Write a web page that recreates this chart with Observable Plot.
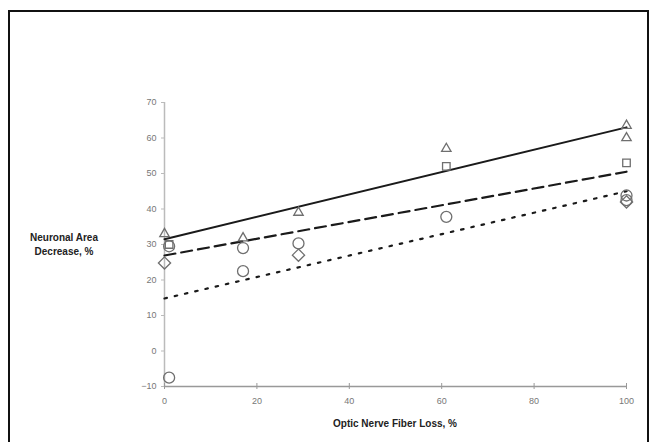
<!DOCTYPE html>
<html>
<head>
<meta charset="utf-8">
<script src="https://cdn.jsdelivr.net/npm/d3@7"></script>
<script src="https://cdn.jsdelivr.net/npm/@observablehq/plot@0.6"></script>
<style>
  html, body { margin: 0; padding: 0; background: #fff; }
  #wrap { position: relative; width: 657px; height: 442px; overflow: hidden; font-family: Arial, "Liberation Sans", sans-serif; }
  #frame { position: absolute; left: 8px; top: 10px; width: 641px; height: 440px; border: 2px solid #111; box-sizing: border-box; }
  #chart { position: absolute; left: 0; top: 0; }
  .lab { position: absolute; font-weight: bold; font-size: 10px; color: #222; text-align: center; }
</style>
</head>
<body>
<div id="wrap">
  <div id="frame"></div>
  <div id="chart"></div>
  <div class="lab" id="ylab" style="left:22px; top:231px; width:84px; line-height:14px;">Neuronal Area<br>Decrease, %</div>
  <div class="lab" id="xlab" style="left:295px; top:418px; width:200px;">Optic Nerve Fiber Loss, %</div>
</div>
<script>
// Observed data (x = optic nerve fiber loss %, y = neuronal area decrease %)
const triangleX = [0, 17, 29, 61, 100, 100];
const triangleY = [33, 31.8, 39, 57, 63.5, 60];
const squareX = [1, 61, 100];
const squareY = [30, 52, 53];
const circleX = [1, 1, 17, 17, 29, 61, 100, 100];
const circleY = [29.5, -7.5, 29, 22.5, 30.3, 37.8, 43.8, 42.5];
const diamondX = [0, 29, 100];
const diamondY = [24.8, 27, 42];

// Regression lines (endpoints at x = 0 and x = 100)
const lineX = [0, 100];
const solidY = [31.5, 63];
const dashedY = [26.9, 50.5];
const dottedY = [14.8, 45];

const xTicks = [0, 20, 40, 60, 80, 100];
const yTicks = [-10, 0, 10, 20, 30, 40, 50, 60, 70];

const pts = (xs, ys) => xs.map((x, i) => ({x, y: ys[i]}));
const ln = (ys) => lineX.map((x, i) => ({x, y: ys[i]}));

const markerStroke = "#6f6f6f";

const chart = Plot.plot({
  width: 657,
  height: 442,
  marginLeft: 164,
  marginRight: 31,
  marginTop: 102,
  marginBottom: 56,
  style: {background: "transparent", fontFamily: "Arial, 'Liberation Sans', sans-serif"},
  x: {type: "linear", domain: [0, 100]},
  y: {type: "linear", domain: [-10, 70]},
  marks: [
    Plot.ruleX([0], {stroke: "#bbb", strokeWidth: 1.5}),
    Plot.ruleY([-10], {stroke: "#999", strokeWidth: 1.5}),
    Plot.axisX({ticks: xTicks, tickSize: 3, tickPadding: 8, label: null, fill: "#777", stroke: "#999", fontSize: 9}),
    Plot.axisX({ticks: xTicks, tickSize: -3, text: null, label: null, stroke: "#999"}),
    Plot.axisY({ticks: yTicks, tickSize: 3, tickPadding: 5, label: null, fill: "#777", stroke: "#bbb", fontSize: 9}),
    Plot.line(ln(solidY), {x: "x", y: "y", stroke: "#1a1a1a", strokeWidth: 2}),
    Plot.line(ln(dashedY), {x: "x", y: "y", stroke: "#1a1a1a", strokeWidth: 2.2, strokeDasharray: "11,6"}),
    Plot.line(ln(dottedY), {x: "x", y: "y", stroke: "#1a1a1a", strokeWidth: 2.2, strokeDasharray: "2.5,8", strokeLinecap: "round"}),
    Plot.dot(pts(circleX, circleY), {x: "x", y: "y", symbol: "circle", r: 5.5, stroke: markerStroke, strokeWidth: 1.3, fill: "none"}),
    Plot.dot(pts(diamondX, diamondY), {x: "x", y: "y", symbol: "diamond2", r: 5.5, stroke: markerStroke, strokeWidth: 1.3, fill: "none"}),
    Plot.dot(pts(squareX, squareY), {x: "x", y: "y", symbol: "square2", r: 4.8, stroke: markerStroke, strokeWidth: 1.3, fill: "none"}),
    Plot.dot(pts(triangleX, triangleY), {x: "x", y: "y", symbol: "triangle2", r: 4.5, stroke: markerStroke, strokeWidth: 1.3, fill: "none"})
  ]
});
document.getElementById("chart").appendChild(chart);
</script>
</body>
</html>
